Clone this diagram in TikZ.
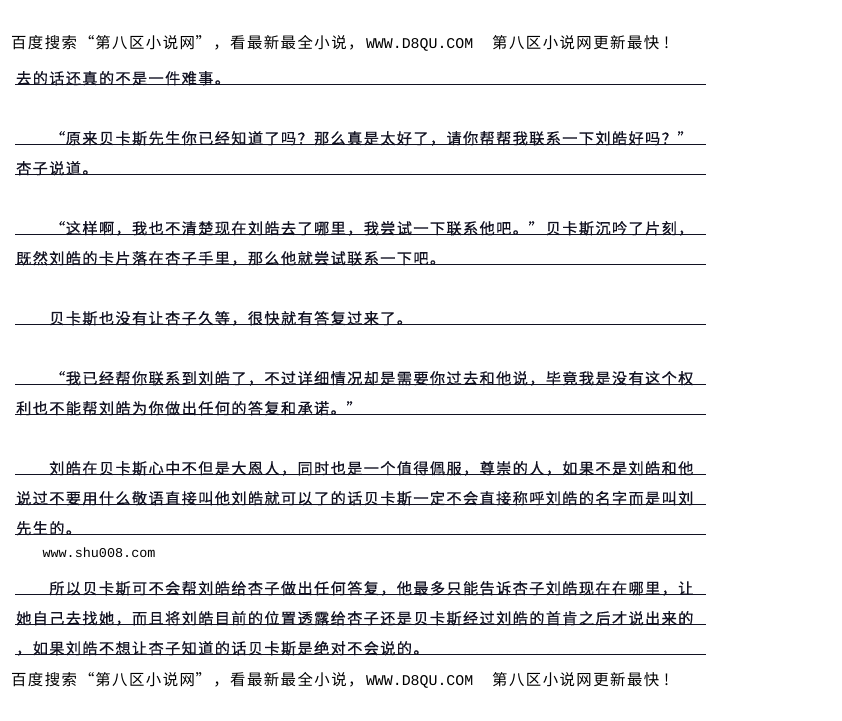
\documentclass[tikz,border=0pt]{standalone}
\usepackage{fontspec}
\newfontfamily\cjkfont[FakeBold=0.5]{Noto Sans CJK SC}
\newfontfamily\cjkhead{Noto Sans CJK SC}
\newfontfamily\monofont{Liberation Mono}
\definecolor{ink}{RGB}{18,18,34}
\newlength\pitch
\setlength\pitch{16.55pt}
\makeatletter
\def\cjkrow#1{\cjk@aux#1\relax}
\def\cjk@aux#1{\ifx\relax#1\else\cjk@cell{#1}\expandafter\cjk@aux\fi}
\def\cjk@cell#1{\ifx“#1\makebox[\pitch][r]{#1}\else\ifx”#1\makebox[\pitch][l]{#1}\else\makebox[\pitch][c]{#1}\fi\fi}
\makeatother
\tikzset{
  bodytxt/.style={anchor=base west, inner sep=0pt, outer sep=0pt, text=ink,
    font=\cjkfont\fontsize{15.2}{16}\selectfont},
  headtxt/.style={anchor=base west, inner sep=0pt, outer sep=0pt, text=black,
    font=\cjkhead\fontsize{15.4}{16}\selectfont},
  headlatin/.style={anchor=base west, inner sep=0pt, outer sep=0pt, text=black,
    font=\monofont\fontsize{14.9}{16}\selectfont},
  sitetxt/.style={anchor=base west, inner sep=0pt, outer sep=0pt, text=black,
    font=\monofont\fontsize{13.45}{16}\selectfont},
  rulel/.style={line width=1pt, ink}
}
\begin{document}
\begin{tikzpicture}[x=1pt,y=-1pt]
\useasboundingbox (0,0) rectangle (842,720);
\fill[white] (0,0) rectangle (842,720);
% header
\node[headtxt] (h1) at (10.4,48.5) {\setlength\pitch{16.85pt}\cjkrow{百度搜索“第八区小说网”，看最新最全小说，}};
\node[headlatin] (h2) at (366,48.5) {WWW.D8QU.COM};
\node[headtxt] (h3) at (491.5,48.5) {\setlength\pitch{16.85pt}\cjkrow{第八区小说网更新最快}\hspace{4pt}!};
% body
\def\xa{15.5}
\def\xb{48.6}
\node[bodytxt] (b1) at (\xa,84) {\cjkrow{去的话还真的不是一件难事。}};
\draw[rulel] (15,84.5) -- (706,84.5);
\node[bodytxt] (b2) at (\xb,144) {\cjkrow{“原来贝卡斯先生你已经知道了吗？那么真是太好了，请你帮帮我联系一下刘皓好吗？”}};
\draw[rulel] (15,144.5) -- (706,144.5);
\node[bodytxt] (b3) at (\xa,174) {\cjkrow{杏子说道。}};
\draw[rulel] (15,174.5) -- (706,174.5);
\node[bodytxt] (b4) at (\xb,234) {\cjkrow{“这样啊，我也不清楚现在刘皓去了哪里，我尝试一下联系他吧。”贝卡斯沉吟了片刻，}};
\draw[rulel] (15,234) -- (706,234);
\node[bodytxt] (b5) at (\xa,264) {\cjkrow{既然刘皓的卡片落在杏子手里，那么他就尝试联系一下吧。}};
\draw[rulel] (15,264) -- (706,264);
\node[bodytxt] (b6) at (\xb,324) {\cjkrow{贝卡斯也没有让杏子久等，很快就有答复过来了。}};
\draw[rulel] (15,324) -- (706,324);
\node[bodytxt] (b7) at (\xb,384) {\cjkrow{“我已经帮你联系到刘皓了，不过详细情况却是需要你过去和他说，毕竟我是没有这个权}};
\draw[rulel] (15,384.5) -- (706,384.5);
\node[bodytxt] (b8) at (\xa,414) {\cjkrow{利也不能帮刘皓为你做出任何的答复和承诺。”}};
\draw[rulel] (15,414) -- (706,414);
\node[bodytxt] (b9) at (\xb,474) {\cjkrow{刘皓在贝卡斯心中不但是大恩人，同时也是一个值得佩服，尊崇的人，如果不是刘皓和他}};
\draw[rulel] (15,474.3) -- (706,474.3);
\node[bodytxt] (b10) at (\xa,504) {\cjkrow{说过不要用什么敬语直接叫他刘皓就可以了的话贝卡斯一定不会直接称呼刘皓的名字而是叫刘}};
\draw[rulel] (15,504) -- (706,504);
\node[bodytxt] (b11) at (\xa,534) {\cjkrow{先生的。}};
\draw[rulel] (15,534) -- (706,534);
\node[sitetxt] (site) at (42.5,557.5) {www.shu008.com};
\node[bodytxt] (b12) at (\xb,594) {\cjkrow{所以贝卡斯可不会帮刘皓给杏子做出任何答复，他最多只能告诉杏子刘皓现在在哪里，让}};
\draw[rulel] (15,594.3) -- (706,594.3);
\node[bodytxt] (b13) at (\xa,624) {\cjkrow{她自己去找她，而且将刘皓目前的位置透露给杏子还是贝卡斯经过刘皓的首肯之后才说出来的}};
\draw[rulel] (15,624.5) -- (706,624.5);
\node[bodytxt] (b14) at (\xa,654) {\cjkrow{，如果刘皓不想让杏子知道的话贝卡斯是绝对不会说的。}};
\draw[rulel] (15,654.3) -- (706,654.3);
% footer
\node[headtxt] (f1) at (10.4,685.5) {\setlength\pitch{16.85pt}\cjkrow{百度搜索“第八区小说网”，看最新最全小说，}};
\node[headlatin] (f2) at (366,685.5) {WWW.D8QU.COM};
\node[headtxt] (f3) at (491.5,685.5) {\setlength\pitch{16.85pt}\cjkrow{第八区小说网更新最快}\hspace{4pt}!};
\end{tikzpicture}
\end{document}
